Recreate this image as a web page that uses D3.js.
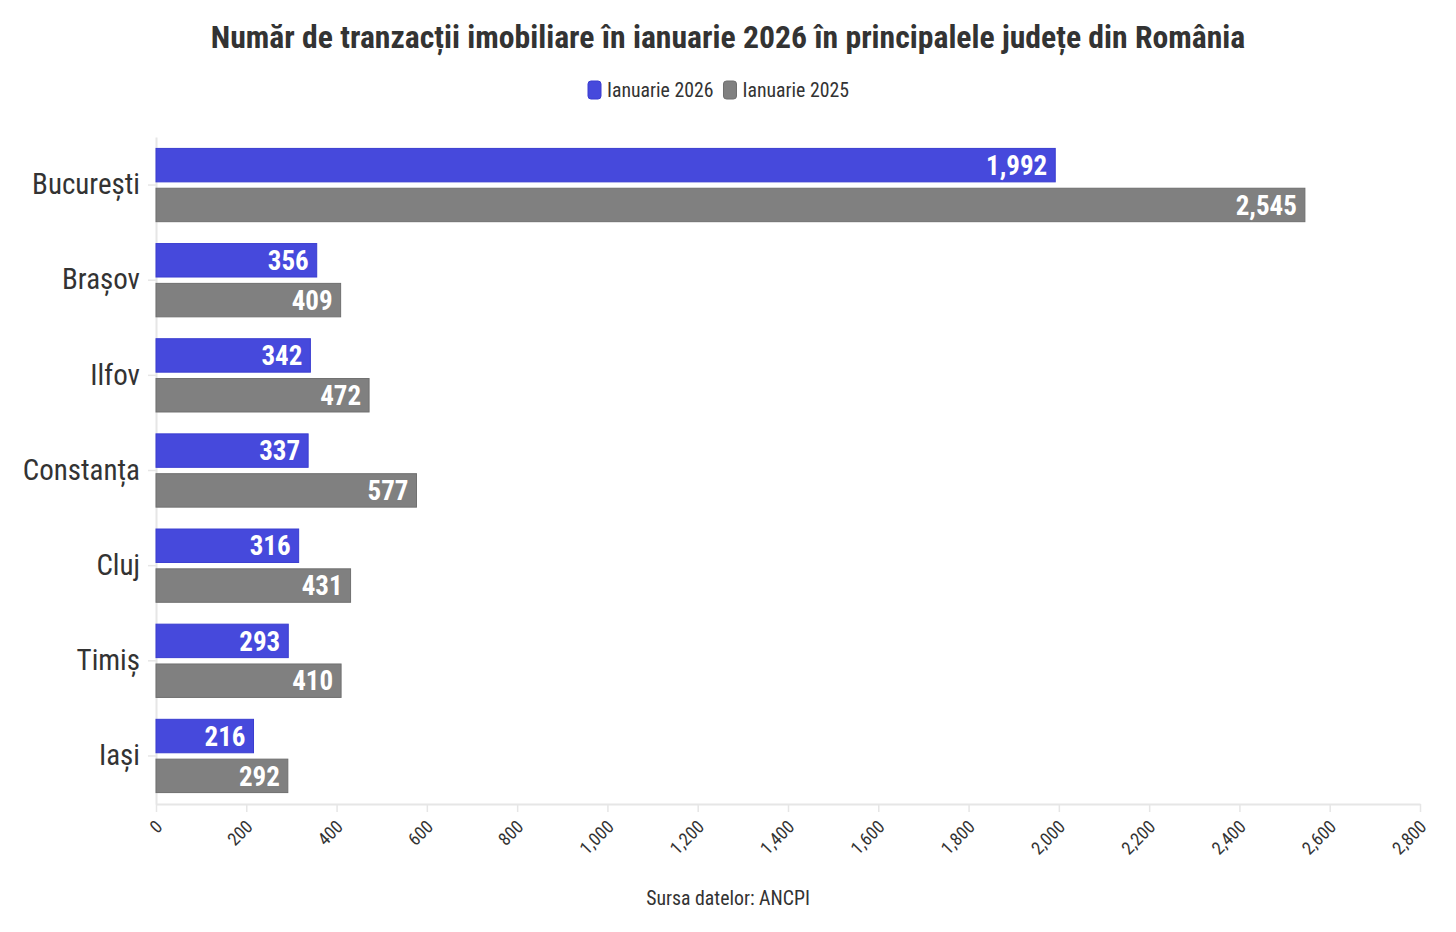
<!DOCTYPE html>
<html><head><meta charset="utf-8">
<script src="https://cdn.jsdelivr.net/npm/d3@7"></script>
<style>
body{margin:0;background:#fff;}
svg text{font-family:"Roboto Condensed","Liberation Sans Narrow","DejaVu Sans Condensed",Roboto,sans-serif;}
</style></head><body>
<svg id="c" width="1456" height="932"></svg>
<script>
const categories = ["București","Brașov","Ilfov","Constanța","Cluj","Timiș","Iași"];
const seriesNames = ["Ianuarie 2026","Ianuarie 2025"];
const values2026 = [1992,356,342,337,316,293,216];
const values2025 = [2545,409,472,577,431,410,292];
const xTicks = [0,200,400,600,800,1000,1200,1400,1600,1800,2000,2200,2400,2600,2800];
const colors = ["#4649DC","#808080"];
const strokes = ["#3a3dd0","#6f6f6f"];

(function(){
const svg = d3.select("#c");
const mLeft=156,mRight=1420,mTop=137,mBottom=804;
const x = d3.scaleLinear().domain([0,2800]).range([mLeft,mRight]);
const y = d3.scaleBand().domain(categories).range([mTop,mBottom]).paddingInner(0.23).paddingOuter(0.12);
const sub = d3.scaleBand().domain(seriesNames).range([0,y.bandwidth()]).paddingInner(0.16);
const fmt = d3.format(",");

svg.append("text").attr("x",728).attr("y",48).attr("text-anchor","middle")
  .attr("font-size",31.7).attr("font-weight","bold").attr("fill","#333").text("Număr de tranzacții imobiliare în ianuarie 2026 în principalele județe din România");

const lg = svg.append("g");
let lxPos = 588;
seriesNames.forEach((n,i)=>{
  lg.append("rect").attr("x",lxPos).attr("y",81).attr("width",13).attr("height",18).attr("rx",3).attr("fill",colors[i]).attr("stroke",strokes[i]);
  const t = lg.append("text").attr("x",lxPos+19).attr("y",97).attr("font-size",19.8).attr("fill","#333").text(n);
  lxPos = lxPos + 19 + t.node().getComputedTextLength() + 10;
});

const xa = svg.append("g").attr("transform",`translate(0,${mBottom})`)
  .call(d3.axisBottom(x).tickValues(xTicks).tickFormat(fmt).tickSize(8).tickSizeOuter(0));
xa.select(".domain").attr("stroke","#e6e6e6").attr("stroke-width",2);
xa.selectAll(".tick line").attr("stroke","#e6e6e6").attr("stroke-width",1.5);
xa.selectAll(".tick text").attr("font-size",18).attr("fill","#333")
  .attr("text-anchor","end").attr("x",0).attr("y",0).attr("dx",0).attr("dy",0)
  .attr("transform","translate(7,24) rotate(-45)");

const ya = svg.append("g").attr("transform",`translate(${mLeft},0)`)
  .call(d3.axisLeft(y).tickSize(8).tickSizeOuter(0).tickPadding(8));
ya.select(".domain").attr("stroke","#e6e6e6").attr("stroke-width",2);
ya.selectAll(".tick line").attr("stroke","#e6e6e6").attr("stroke-width",1.5);
ya.selectAll(".tick text").attr("font-size",29).attr("fill","#333");

const data = categories.map((c,i)=>({c, vals:[values2026[i],values2025[i]]}));
const g = svg.append("g");
data.forEach(d=>{
  d.vals.forEach((v,j)=>{
    const yy = y(d.c)+sub(seriesNames[j]);
    g.append("rect").attr("x",x(0)).attr("y",yy).attr("width",x(v)-x(0)).attr("height",sub.bandwidth())
      .attr("fill",colors[j]).attr("stroke",strokes[j]).attr("stroke-width",1);
    g.append("text").attr("x",x(v)-8).attr("y",yy+sub.bandwidth()/2).attr("dy","0.36em")
      .attr("text-anchor","end").attr("font-size",27).attr("font-weight","bold").attr("fill","#fff").text(fmt(v));
  });
});

svg.append("text").attr("x",728).attr("y",905).attr("text-anchor","middle").attr("font-size",19.8).attr("fill","#333").text("Sursa datelor: ANCPI");
})();
</script></body></html>
